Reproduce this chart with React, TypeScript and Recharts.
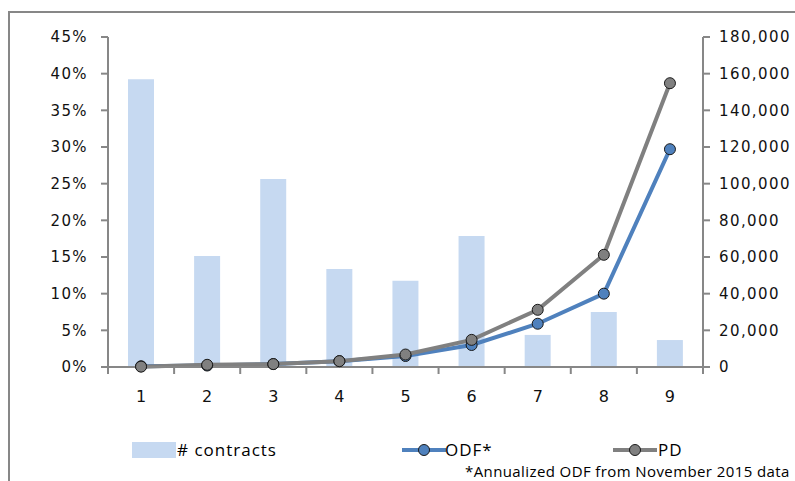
import { ComposedChart, Bar, Line, XAxis, YAxis } from 'recharts';

const categories = ['1', '2', '3', '4', '5', '6', '7', '8', '9'];
const contracts = [157000, 60500, 102500, 53500, 47000, 71500, 17500, 30000, 14700];
const odf = [0.1, 0.2, 0.4, 0.8, 1.5, 3.0, 5.9, 10.0, 29.7];
const pd = [0.05, 0.3, 0.4, 0.8, 1.7, 3.7, 7.8, 15.3, 38.7];
const pctTicks = [0, 5, 10, 15, 20, 25, 30, 35, 40, 45];
const countTicks = [0, 20000, 40000, 60000, 80000, 100000, 120000, 140000, 160000, 180000];

const data = categories.map((c, i) => ({ name: c, contracts: contracts[i], odf: odf[i], pd: pd[i] }));

const AXIS = '#878787';
const BAR = '#C6D9F1';
const BLUE = '#4F81BD';
const GREY = '#808080';
const BAND = 595 / 9;

const tickText = { fontFamily: 'DejaVu Sans', fontSize: 15, fill: '#111', letterSpacing: 1.4 };

function XTick({ x, y, payload, index }: any) {
  return (
    <g>
      <line x1={x - BAND / 2} x2={x - BAND / 2} y1={y} y2={y + 7} stroke={AXIS} strokeWidth={2} />
      {index === categories.length - 1 && (
        <line x1={x + BAND / 2} x2={x + BAND / 2} y1={y} y2={y + 7} stroke={AXIS} strokeWidth={2} />
      )}
      <text x={x} y={y + 35} textAnchor="middle" fontFamily="DejaVu Sans" fontSize={16} fill="#111">
        {payload.value}
      </text>
    </g>
  );
}

const legendText = { fontFamily: '"Open Sans"', fontSize: 17, letterSpacing: 1, color: '#000', lineHeight: '20px' };

export default function App() {
  return (
    <div style={{ position: 'fixed', left: 0, top: 0, width: 795, height: 481, overflow: 'hidden', background: '#fff' }}>
      <div style={{ position: 'absolute', left: 8, top: 11, width: 820, height: 500, borderTop: `2px solid ${AXIS}`, borderLeft: `2px solid ${AXIS}` }} />
      <ComposedChart width={795} height={481} data={data} margin={{ top: 37, right: 0, left: 0, bottom: 74 }} style={{ position: 'absolute', left: 0, top: 0 }}>
        <XAxis dataKey="name" height={40} tickSize={0} tickMargin={0} tickLine={false} interval={0}
          axisLine={{ stroke: AXIS, strokeWidth: 2 }} tick={<XTick />} />
        <YAxis yAxisId="pct" orientation="left" width={108} domain={[0, 45]} ticks={pctTicks}
          tickFormatter={(v: number) => `${v}%`} tickSize={7} tickMargin={13}
          axisLine={{ stroke: AXIS, strokeWidth: 2 }} tickLine={{ stroke: AXIS, strokeWidth: 2 }} tick={tickText} />
        <YAxis yAxisId="cnt" orientation="right" width={92} domain={[0, 180000]} ticks={countTicks}
          tickFormatter={(v: number) => v.toLocaleString('en-US')} tickSize={7} tickMargin={9}
          axisLine={{ stroke: AXIS, strokeWidth: 2 }} tickLine={{ stroke: AXIS, strokeWidth: 2 }} tick={tickText} />
        <Bar yAxisId="cnt" dataKey="contracts" fill={BAR} barSize={26} isAnimationActive={false} />
        <Line yAxisId="pct" dataKey="odf" stroke={BLUE} strokeWidth={4}
          dot={{ r: 5.5, fill: BLUE, stroke: '#1a1a1a', strokeWidth: 1 }} isAnimationActive={false} />
        <Line yAxisId="pct" dataKey="pd" stroke={GREY} strokeWidth={4}
          dot={{ r: 5.5, fill: GREY, stroke: '#1a1a1a', strokeWidth: 1 }} isAnimationActive={false} />
      </ComposedChart>

      <div style={{ position: 'absolute', left: 132, top: 442, width: 44, height: 16, background: BAR }} />
      <div style={{ ...legendText, position: 'absolute', left: 177, top: 440 }}># contracts</div>

      <svg style={{ position: 'absolute', left: 402, top: 442 }} width={44} height={16}>
        <line x1={0} x2={44} y1={8} y2={8} stroke={BLUE} strokeWidth={4} />
        <circle cx={22} cy={8} r={5.5} fill={BLUE} stroke="#1a1a1a" strokeWidth={1} />
      </svg>
      <div style={{ ...legendText, position: 'absolute', left: 445, top: 440 }}>ODF*</div>

      <svg style={{ position: 'absolute', left: 613, top: 442 }} width={44} height={16}>
        <line x1={0} x2={44} y1={8} y2={8} stroke={GREY} strokeWidth={4} />
        <circle cx={22} cy={8} r={5.5} fill={GREY} stroke="#1a1a1a" strokeWidth={1} />
      </svg>
      <div style={{ ...legendText, position: 'absolute', left: 658, top: 440 }}>PD</div>

      <div style={{ position: 'absolute', left: 465, top: 462, fontFamily: '"Open Sans"', fontSize: 15, letterSpacing: 0.4, color: '#000', whiteSpace: 'nowrap', lineHeight: '18px' }}>
        *Annualized ODF from November 2015 data
      </div>
    </div>
  );
}
